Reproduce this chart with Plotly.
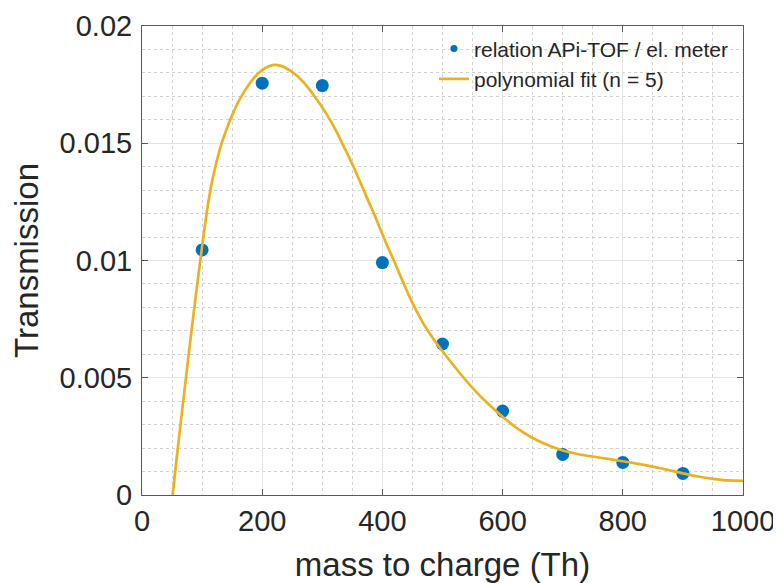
import plotly.graph_objects as go

# measured data (relation APi-TOF / electrometer)
mz_points = [100, 200, 300, 400, 500, 600, 700, 800, 900]
transmission_points = [0.01045, 0.01756, 0.01746, 0.00991, 0.00644, 0.00358, 0.00173, 0.00139, 0.00092]

# polynomial fit curve
fit_x = [51, 60, 70, 80, 90, 100, 108, 116, 124, 132, 140, 150, 160, 170, 180, 190, 200, 210,
         220, 230, 240, 257, 274, 290, 302, 315, 325, 334, 343, 352, 360, 369, 377, 386, 394, 402,
         410, 419, 428, 437, 445, 456, 468, 479, 490, 509, 530, 551, 575, 600, 625, 650, 675, 700,
         725, 750, 775, 800, 825, 850, 875, 900, 925, 950, 975, 1000]
fit_y = [0.0, 0.0021, 0.0043, 0.0065, 0.0086, 0.0106, 0.0121, 0.0133, 0.0142, 0.01495, 0.01555,
         0.0162, 0.01675, 0.0172, 0.01758, 0.01789, 0.01812, 0.01827, 0.01834, 0.01831, 0.0182,
         0.0179, 0.01745, 0.0169, 0.01645, 0.0159, 0.01543, 0.01495, 0.01448, 0.0140, 0.01353,
         0.0130, 0.01251, 0.0120, 0.01149, 0.0110, 0.01052, 0.0100, 0.00946, 0.00893, 0.00846,
         0.00788, 0.00732, 0.00688, 0.00647, 0.00583, 0.00516, 0.00454, 0.00391, 0.00334, 0.00283,
         0.00243, 0.00213, 0.0019, 0.00175, 0.00164, 0.00154, 0.00144, 0.00133, 0.00121, 0.00107,
         0.00092, 0.00079, 0.00069, 0.00062, 0.0006]

x_ticks = [0, 200, 400, 600, 800, 1000]
x_tick_labels = ["0", "200", "400", "600", "800", "1000"]
y_ticks = [0, 0.005, 0.01, 0.015, 0.02]
y_tick_labels = ["0", "0.005", "0.01", "0.015", "0.02"]

BLUE = "#0072BD"
ORANGE = "#EDB120"
FONT = "Liberation Sans"

fig = go.Figure()
fig.add_trace(go.Scatter(x=mz_points, y=transmission_points, mode="markers",
                         marker=dict(color=BLUE, size=13), showlegend=False,
                         legendgroup="pts"))
fig.add_trace(go.Scatter(x=[None], y=[None], mode="markers",
                         marker=dict(color=BLUE, size=7),
                         name="relation APi-TOF / el. meter", legendgroup="pts"))
fig.add_trace(go.Scatter(x=fit_x, y=fit_y, mode="lines",
                         line=dict(color=ORANGE, width=2.7, shape="spline", smoothing=0.5),
                         name="polynomial fit (n = 5)"))

axis_common = dict(
    showline=True, linecolor="#5a5a5a", linewidth=1, mirror="ticks",
    ticks="inside", ticklen=6, tickcolor="#5a5a5a",
    showgrid=True, gridcolor="#e4e4e4", gridwidth=1,
    zeroline=False, automargin=False,
    tickfont=dict(family=FONT, size=29, color="#262626"),
    title_font=dict(family=FONT, size=33, color="#262626"),
)

fig.update_xaxes(**axis_common, range=[0, 1000], tickvals=x_ticks, ticktext=x_tick_labels,
                 title_text="mass to charge (Th)", title_standoff=20,
                 minor=dict(dtick=50, showgrid=True, gridcolor="#d2d2d2", griddash="dot",
                            gridwidth=1, ticks=""))
fig.update_yaxes(**axis_common, range=[0, 0.02], tickvals=y_ticks, ticktext=y_tick_labels,
                 title_text="Transmission", title_standoff=17, ticklabelstandoff=3,
                 minor=dict(dtick=0.001, showgrid=True, gridcolor="#d2d2d2", griddash="dot",
                            gridwidth=1, ticks=""))

# page body has an 8px margin, so the figure is sized/offset to land the plot area
# at the same pixel positions as in the reference
fig.update_layout(
    width=773, height=575,
    margin=dict(l=134, r=38, t=18, b=88),
    plot_bgcolor="white", paper_bgcolor="white",
    font=dict(family=FONT, color="#262626"),
    legend=dict(x=0.985, y=0.995, xanchor="right", yanchor="top",
                bgcolor="rgba(255,255,255,0)", borderwidth=0,
                font=dict(family=FONT, size=21, color="#262626"),
                tracegroupgap=0, itemwidth=30),
)

fig.write_html("out.html")
